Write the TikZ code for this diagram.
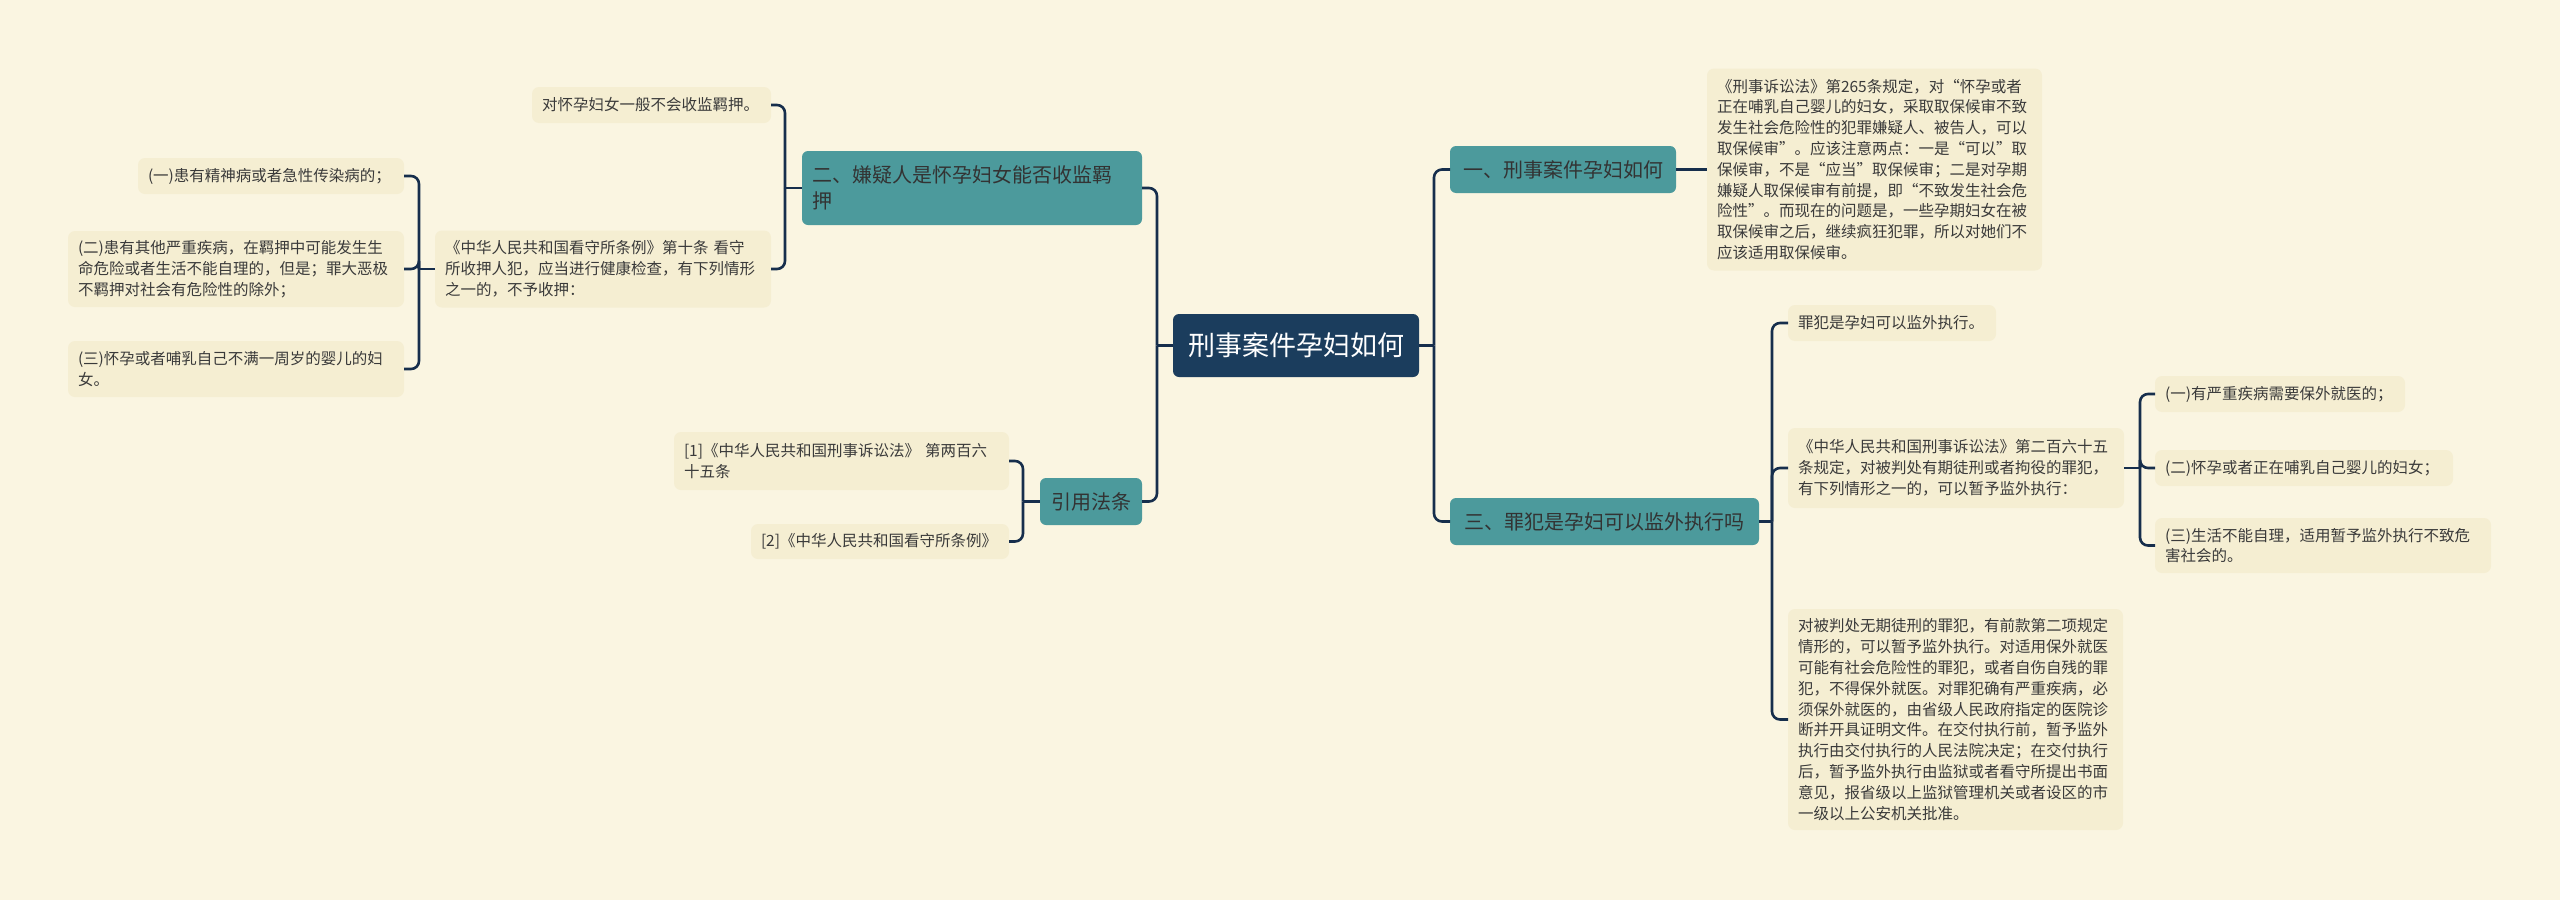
\documentclass[tikz,border=0pt]{standalone}
\usepackage{fontspec}
\setmainfont{Noto Sans CJK SC}
\usepackage{tikz}
\definecolor{bgcream}{RGB}{250,245,225}
\definecolor{leaffill}{RGB}{245,238,210}
\definecolor{branchteal}{RGB}{76,154,156}
\definecolor{rootnavy}{RGB}{27,61,93}
\definecolor{linknavy}{RGB}{22,46,76}
\definecolor{inktext}{RGB}{58,58,58}

\begin{document}
\begin{tikzpicture}[
  x=1pt,y=-1pt,
  every node/.style={inner sep=0pt,outer sep=0pt},
  link/.style={line width=2.6pt,draw=linknavy,rounded corners=8pt},
  root/.style={rectangle,fill=rootnavy,rounded corners=6pt,text=white,
               font=\fontsize{27pt}{32pt}\selectfont,align=center},
  branch/.style={rectangle,fill=branchteal,rounded corners=6pt,text=black!80,
                 font=\fontsize{20pt}{26pt}\selectfont,align=left,inner xsep=10pt},
  leaf/.style={rectangle,fill=leaffill,rounded corners=7pt,text=inktext,
               font=\fontsize{15.5pt}{20.8pt}\selectfont,align=left,inner xsep=10pt}
]
\fill[bgcream] (0,0) rectangle (2560,900);
\useasboundingbox (0,0) rectangle (2560,900);

% centre
\node[root,minimum width=246pt,minimum height=63pt] (root) at (1296,345.5) {刑事案件孕妇如何};

% right side
\node[branch,minimum width=226pt,minimum height=47pt] (b1) at (1563,169.5) {一、刑事案件孕妇如何};
\node[branch,minimum width=309pt,minimum height=47pt] (b3) at (1604.5,521.5) {三、罪犯是孕妇可以监外执行吗};

\node[leaf,text width=315pt,minimum height=202pt] (lawtext) at (1874.5,169.5) {《刑事诉讼法》第265条规定，对“怀孕或者\\正在哺乳自己婴儿的妇女，采取取保候审不致\\发生社会危险性的犯罪嫌疑人、被告人，可以\\取保候审”。应该注意两点：一是“可以”取\\保候审，不是“应当”取保候审；二是对孕期\\嫌疑人取保候审有前提，即“不致发生社会危\\险性”。而现在的问题是，一些孕期妇女在被\\取保候审之后，继续疯狂犯罪，所以对她们不\\应该适用取保候审。};

\node[leaf,text width=188pt,minimum height=36pt] (jailout) at (1892,323) {罪犯是孕妇可以监外执行。};
\node[leaf,text width=316pt,minimum height=80pt] (art265) at (1956,468) {《中华人民共和国刑事诉讼法》第二百六十五\\条规定，对被判处有期徒刑或者拘役的罪犯，\\有下列情形之一的，可以暂予监外执行：};
\node[leaf,text width=315pt,minimum height=221pt] (lifeterm) at (1955.5,719.5) {对被判处无期徒刑的罪犯，有前款第二项规定\\情形的，可以暂予监外执行。对适用保外就医\\可能有社会危险性的罪犯，或者自伤自残的罪\\犯，不得保外就医。对罪犯确有严重疾病，必\\须保外就医的，由省级人民政府指定的医院诊\\断并开具证明文件。在交付执行前，暂予监外\\执行由交付执行的人民法院决定；在交付执行\\后，暂予监外执行由监狱或者看守所提出书面\\意见，报省级以上监狱管理机关或者设区的市\\一级以上公安机关批准。};

\node[leaf,text width=230pt,minimum height=36pt] (ill) at (2280,394) {(一)有严重疾病需要保外就医的；};
\node[leaf,text width=278pt,minimum height=36pt] (nursing) at (2304,468) {(二)怀孕或者正在哺乳自己婴儿的妇女；};
\node[leaf,text width=316pt,minimum height=55pt] (selfcare) at (2323,545.5) {(三)生活不能自理，适用暂予监外执行不致危\\害社会的。};

% left side
\node[branch,text width=320pt,minimum height=74pt] (b2) at (972,188) {二、嫌疑人是怀孕妇女能否收监羁\\押};
\node[branch,minimum width=102pt,minimum height=47pt] (b4) at (1091,501.5) {引用法条};

\node[leaf,text width=219pt,minimum height=36pt] (nodetain) at (651.5,105) {对怀孕妇女一般不会收监羁押。};
\node[leaf,text width=316pt,minimum height=77pt] (art10) at (603,269) {《中华人民共和国看守所条例》第十条 看守\\所收押人犯，应当进行健康检查，有下列情形\\之一的，不予收押：};

\node[leaf,text width=246pt,minimum height=36pt] (mental) at (271,176) {(一)患有精神病或者急性传染病的；};
\node[leaf,text width=316pt,minimum height=76pt] (serious) at (236,269) {(二)患有其他严重疾病，在羁押中可能发生生\\命危险或者生活不能自理的，但是；罪大恶极\\不羁押对社会有危险性的除外；};
\node[leaf,text width=316pt,minimum height=56pt] (infant) at (236,369) {(三)怀孕或者哺乳自己不满一周岁的婴儿的妇\\女。};

\node[leaf,text width=315pt,minimum height=58pt] (ref1) at (841.5,461) {[1]《中华人民共和国刑事诉讼法》 第两百六\\十五条};
\node[leaf,text width=238pt,minimum height=35pt] (ref2) at (880,541.5) {[2]《中华人民共和国看守所条例》};

% junctions
\coordinate (jr)  at (1434,345.5);
\coordinate (jl)  at (1157,345.5);
\coordinate (j3)  at (1772,521.5);
\coordinate (j32) at (2140,468);
\coordinate (j2)  at (785,188);
\coordinate (j10) at (419,269);
\coordinate (j4)  at (1023,501.5);

% connectors
\draw[link] (root.east) -- (jr);
\foreach \b in {b1,b3} { \draw[link] (jr) |- (\b.west); }
\draw[link] (b1.east) -- (lawtext.west);
\draw[link] (b3.east) -- (j3);
\foreach \c in {jailout,art265,lifeterm} { \draw[link] (j3) |- (\c.west); }
\draw[link] (art265.east) -- (j32);
\foreach \c in {ill,nursing,selfcare} { \draw[link] (j32) |- (\c.west); }

\draw[link] (root.west) -- (jl);
\foreach \b in {b2,b4} { \draw[link] (jl) |- (\b.east); }
\draw[link] (b2.west) -- (j2);
\foreach \c in {nodetain,art10} { \draw[link] (j2) |- (\c.east); }
\draw[link] (art10.west) -- (j10);
\foreach \c in {mental,serious,infant} { \draw[link] (j10) |- (\c.east); }
\draw[link] (b4.west) -- (j4);
\foreach \c in {ref1,ref2} { \draw[link] (j4) |- (\c.east); }

\end{tikzpicture}
\end{document}
